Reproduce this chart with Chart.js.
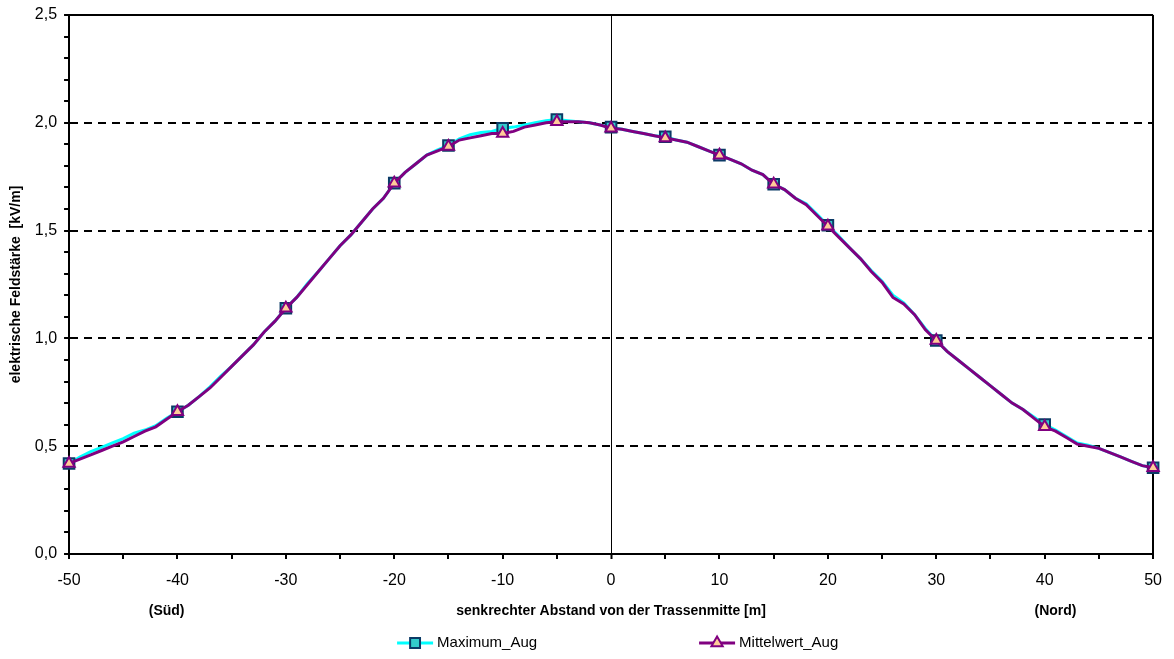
<!DOCTYPE html>
<html>
<head>
  <title>Elektrische Feldstärke</title>
  <script src="https://cdn.jsdelivr.net/npm/chart.js"></script>
  <style>
    body { margin:0; background:#fff; }
    canvas { display:block; }
  </style>
</head>
<body>
  <canvas id="feldChart" width="1174" height="659"></canvas>
  <script>
    // Abstand von der Trassenmitte [m]
    const distances = [-50,-49,-48,-47,-46,-45,-44,-43,-42,-41,-40,-39,-38,-37,-36,-35,-34,-33,-32,-31,
      -30,-29,-28,-27,-26,-25,-24,-23,-22,-21,-20,-19,-18,-17,-16,-15,-14,-13,-12,-11,
      -10,-9,-8,-7,-6,-5,-4,-3,-2,-1,0,1,2,3,4,5,6,7,8,9,
      10,11,12,13,14,15,16,17,18,19,20,21,22,23,24,25,26,27,28,29,
      30,31,32,33,34,35,36,37,38,39,40,41,42,43,44,45,46,47,48,49,50];

    // elektrische Feldstärke [kV/m]
    const maximumAug = [0.42,0.45,0.475,0.495,0.515,0.535,0.56,0.575,0.595,0.63,
      0.66,0.69,0.73,0.775,0.825,0.87,0.92,0.97,1.03,1.08,
      1.14,1.19,1.255,1.31,1.37,1.43,1.48,1.54,1.60,1.65,
      1.72,1.77,1.81,1.85,1.875,1.895,1.925,1.945,1.955,1.96,
      1.975,1.98,1.99,2.0,2.01,2.015,2.01,2.005,2.0,1.99,
      1.98,1.97,1.96,1.95,1.94,1.935,1.92,1.91,1.89,1.87,
      1.85,1.83,1.81,1.78,1.76,1.715,1.69,1.65,1.625,1.575,
      1.525,1.475,1.42,1.37,1.315,1.265,1.20,1.165,1.11,1.045,
      0.99,0.94,0.90,0.86,0.82,0.78,0.74,0.70,0.67,0.635,
      0.60,0.575,0.545,0.515,0.505,0.49,0.47,0.45,0.43,0.41,0.40];
    const mittelwertAug = [0.42,0.44,0.46,0.48,0.50,0.52,0.545,0.57,0.59,0.625,
      0.66,0.69,0.73,0.77,0.82,0.87,0.92,0.97,1.03,1.08,
      1.14,1.19,1.25,1.31,1.37,1.43,1.48,1.54,1.60,1.65,
      1.72,1.77,1.81,1.85,1.87,1.89,1.92,1.93,1.94,1.95,
      1.95,1.96,1.98,1.99,2.0,2.005,2.005,2.005,2.0,1.99,
      1.975,1.97,1.96,1.95,1.94,1.93,1.92,1.91,1.89,1.87,
      1.85,1.83,1.81,1.78,1.76,1.715,1.69,1.65,1.62,1.57,
      1.52,1.47,1.42,1.37,1.31,1.26,1.19,1.16,1.11,1.04,
      0.99,0.94,0.90,0.86,0.82,0.78,0.74,0.70,0.67,0.63,
      0.59,0.57,0.54,0.51,0.50,0.49,0.47,0.45,0.43,0.41,0.40];

    // Messpunkte mit Symbol
    const markerAt = [-50,-40,-30,-20,-15,-10,-5,0,5,10,15,20,30,40,50];

    const seriesNames = ['Maximum_Aug', 'Mittelwert_Aug'];
    const sideLabels = ['(Süd)', '(Nord)'];
    const sideLabelAt = [-41, 41];

    const fontFam = "'Liberation Sans', Arial, sans-serif";
    Chart.defaults.color = '#000';
    Chart.defaults.font.family = fontFam;

    const toPts = arr => distances.map((d, i) => ({ x: d, y: arr[i] }));
    const markRadius = r => ctx => markerAt.includes(ctx.raw && ctx.raw.x) ? r : 0;
    const isMult = (v, step) => Math.abs(Math.round(v / step) * step - v) < 1e-6;
    const comma = v => v.toFixed(1).replace('.', ',');

    const extras = {
      id: 'extras',
      afterDraw(chart) {
        const c = chart.ctx, a = chart.chartArea, xs = chart.scales.x;
        c.save();
        // (Süd) / (Nord)
        c.font = 'bold 14px ' + fontFam;
        c.fillStyle = '#000';
        c.textAlign = 'center';
        c.textBaseline = 'middle';
        sideLabels.forEach((t, i) => c.fillText(t, xs.getPixelForValue(sideLabelAt[i]), a.bottom + 57));
        // legend
        const mid = (a.left + a.right) / 2;
        const y = a.bottom + 89;
        const starts = [mid - 214, mid + 88];
        chart.data.datasets.forEach((ds, i) => {
          const x0 = starts[i];
          c.strokeStyle = ds.borderColor;
          c.lineWidth = 3;
          c.beginPath(); c.moveTo(x0, y); c.lineTo(x0 + 36, y); c.stroke();
          c.fillStyle = ds.pointBackgroundColor;
          c.strokeStyle = ds.pointBorderColor;
          c.lineWidth = ds.pointBorderWidth;
          Chart.helpers.drawPoint(c, { pointStyle: ds.pointStyle, radius: ds.legendRadius, rotation: 0, borderWidth: ds.pointBorderWidth }, x0 + 18, y);
          c.fillStyle = '#000';
          c.font = '15px ' + fontFam;
          c.textAlign = 'left';
          c.fillText(seriesNames[i], x0 + 40, y);
        });
        c.restore();
      }
    };

    new Chart(document.getElementById('feldChart'), {
      type: 'line',
      data: {
        datasets: [{
          label: seriesNames[0],
          data: toPts(maximumAug),
          borderColor: '#00ffff',
          borderWidth: 3,
          pointStyle: 'rect',
          pointRadius: markRadius(7.5),
          legendRadius: 7,
          pointBackgroundColor: '#33cccc',
          pointBorderColor: '#0b3a66',
          pointBorderWidth: 2,
          tension: 0,
          clip: false,
          order: 1
        }, {
          label: seriesNames[1],
          data: toPts(mittelwertAug),
          borderColor: '#800080',
          borderWidth: 3,
          pointStyle: 'triangle',
          pointRadius: markRadius(6.5),
          legendRadius: 6.5,
          pointBackgroundColor: '#ffcc99',
          pointBorderColor: '#800080',
          pointBorderWidth: 2,
          tension: 0,
          clip: false,
          order: 0
        }]
      },
      options: {
        responsive: false,
        animation: false,
        layout: { padding: { top: 2, right: 18, bottom: 39, left: 8 } },
        plugins: { legend: { display: false }, tooltip: { enabled: false } },
        scales: {
          x: {
            type: 'linear', min: -50, max: 50,
            ticks: {
              stepSize: 5, autoSkip: false, maxRotation: 0, padding: 12,
              font: { size: 16 },
              callback: v => isMult(v, 10) ? String(v) : ''
            },
            grid: {
              color: ctx => (ctx.tick && (ctx.tick.value === 0 || Math.abs(ctx.tick.value) === 50)) ? '#000' : 'rgba(0,0,0,0)',
              lineWidth: ctx => (ctx.tick && ctx.tick.value === 0) ? 1 : 2,
              tickColor: '#000', tickLength: 5, tickWidth: 2
            },
            border: { color: '#000', width: 2 },
            title: {
              display: true, text: 'senkrechter Abstand von der Trassenmitte [m]',
              font: { size: 14, weight: 'bold' }, padding: { top: 1, bottom: 0 }
            }
          },
          y: {
            min: 0, max: 2.5,
            ticks: {
              stepSize: 0.1, autoSkip: false, maxTicksLimit: 100, padding: 7,
              font: { size: 16, lineHeight: 1 },
              callback: v => isMult(v, 0.5) ? comma(v) : ''
            },
            grid: {
              color: ctx => {
                if (!ctx.tick) return '#000';
                const v = ctx.tick.value;
                return (isMult(v, 0.5) && v > 0.01) ? '#000' : 'rgba(0,0,0,0)';
              },
              lineWidth: 2,
              tickColor: '#000', tickLength: 5, tickWidth: 2
            },
            border: {
              color: '#000', width: 2,
              dash: ctx => (ctx.tick && ctx.tick.value < 2.49) ? [8, 6] : []
            },
            title: {
              display: true, text: 'elektrische Feldstärke  [kV/m]',
              font: { size: 14, weight: 'bold' }, padding: { top: 0, bottom: 3 }
            }
          }
        }
      },
      plugins: [extras]
    });
  </script>
</body>
</html>
